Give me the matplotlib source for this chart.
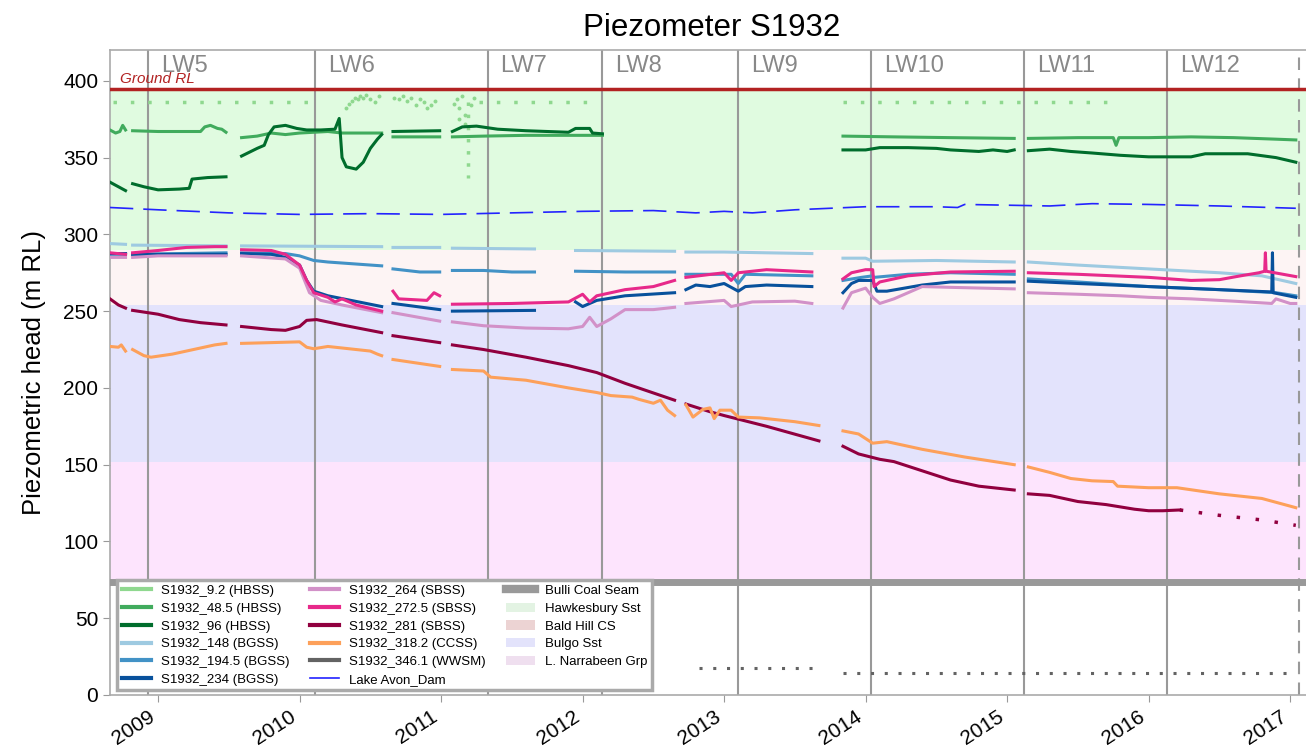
import numpy as np
import matplotlib
matplotlib.use('Agg')
import matplotlib.pyplot as plt
from matplotlib.patches import Patch
from matplotlib.lines import Line2D

plt.rcParams['font.family'] = ['Liberation Sans', 'DejaVu Sans']
nan = np.nan

# ---- data (decimal years, m RL) ----
lw_names = ['LW5', 'LW6', 'LW7', 'LW8', 'LW9', 'LW10', 'LW11', 'LW12']
lw_starts = [2008.93, 2010.11, 2011.33, 2012.14, 2013.10, 2014.04, 2015.12, 2016.13]
lw_end = 2017.06

ground_rl = 395
bulli_seam = 73.5
# (name, bottom, top)
units = [('Hawkesbury Sst', 290, 395),
         ('Bald Hill CS', 254, 290),
         ('Bulgo Sst', 152, 254),
         ('L. Narrabeen Grp', 73.5, 152)]

s9_x = [2008.68, 2010.10, nan, 2011.27, 2012.06, nan, 2013.84, 2015.72]
s9_y = [386.5, 386.5, nan, 386.5, 386.5, nan, 386.5, 386.5]
s9_scatter_x = [2010.33, 2010.35, 2010.37, 2010.39, 2010.41, 2010.43, 2010.45, 2010.47, 2010.50,
                2010.53, 2010.56, 2010.67, 2010.70, 2010.73, 2010.76, 2010.79, 2010.82, 2010.85,
                2010.88, 2010.90, 2010.93, 2010.96, 2011.09, 2011.11, 2011.13, 2011.15, 2011.17,
                2011.21, 2011.23, 2011.13, 2011.17]
s9_scatter_y = [382, 385, 387, 389, 388, 390, 389, 391, 388, 386, 390, 389, 388, 390, 387, 389, 384,
                388, 386, 382, 384, 387, 385, 388, 382, 390, 378, 384, 389, 375, 372]
s9_vert_x = [2011.19, 2011.19]
s9_vert_y = [386, 337]

s48_x = [2008.66, 2008.70, 2008.73, 2008.75, 2008.77, nan,
         2008.82, 2009.0, 2009.2, 2009.3, 2009.33, 2009.37, 2009.42, 2009.45, 2009.48, nan,
         2009.59, 2009.7, 2009.8, 2009.9, 2010.0, 2010.1, 2010.2, 2010.3, 2010.4, 2010.5, 2010.58, nan,
         2010.66, 2010.99, nan,
         2011.08, 2011.3, 2011.6, 2011.9, 2012.14, nan,
         2013.84, 2014.2, 2014.6, 2015.05, nan,
         2015.15, 2015.5, 2015.75, 2015.77, 2015.79, 2016.0, 2016.3, 2016.6, 2016.9, 2017.04]
s48_y = [368, 366, 367, 371, 368, nan,
         367.5, 367, 367, 367, 370, 371, 369, 368.5, 366.5, nan,
         363, 364, 366, 365, 366, 366.5, 367, 366, 366, 366, 366, nan,
         363.5, 363.5, nan,
         363.5, 364, 364.5, 364.5, 364.5, nan,
         364, 363.5, 363, 362.5, nan,
         362.5, 363, 363, 358, 363, 363, 363.5, 363, 362, 361.5]

s96_x = [2008.66, 2008.72, 2008.77, nan,
         2008.82, 2008.9, 2009.0, 2009.15, 2009.22, 2009.24, 2009.35, 2009.48, nan,
         2009.59, 2009.7, 2009.75, 2009.78, 2009.82, 2009.9, 2009.98, 2010.05, 2010.15, 2010.25,
         2010.28, 2010.30, 2010.33, 2010.40, 2010.45, 2010.5, 2010.55, 2010.58, nan,
         2010.66, 2010.99, nan,
         2011.08, 2011.15, 2011.25, 2011.4, 2011.6, 2011.9, 2011.95, 2012.05, 2012.07, 2012.14, nan,
         2013.84, 2014.0, 2014.1, 2014.3, 2014.5, 2014.6, 2014.8, 2014.9, 2015.0, 2015.05, nan,
         2015.15, 2015.3, 2015.45, 2015.6, 2015.8, 2016.0, 2016.3, 2016.4, 2016.7, 2016.9, 2017.04]
s96_y = [334, 331, 328.5, nan,
         333, 331, 329, 329.5, 330, 336, 337, 337.5, nan,
         351, 356, 358, 365, 370, 371, 369, 368, 368, 368.5,
         375.5, 350, 344, 342.5, 347, 356, 362, 365, nan,
         367, 367.5, nan,
         367, 370, 370.5, 368.5, 367.5, 366.5, 369, 369, 366, 365.5, nan,
         355, 355, 356.5, 356.5, 356, 355, 354, 355, 354, 355, nan,
         354.5, 355.5, 354, 353, 351.5, 350.5, 350.5, 352.5, 352.5, 350, 347]

s148_x = [2008.66, 2008.77, nan, 2008.82, 2009.48, nan, 2009.59, 2010.58, nan, 2010.66, 2010.99, nan,
          2011.08, 2011.66, nan, 2011.95, 2012.65, nan, 2012.73, 2013.0, 2013.3, 2013.62, nan,
          2013.84, 2014.0, 2014.05, 2014.5, 2015.05, nan,
          2015.15, 2015.5, 2016.0, 2016.5, 2016.8, 2017.04]
s148_y = [294, 293.5, nan, 293, 292.5, nan, 292.5, 292, nan, 291.5, 291.5, nan,
          291, 290.5, nan, 289.5, 289, nan, 288.5, 288.5, 288, 287.5, nan,
          284.5, 284.5, 282.5, 283, 282, nan,
          282, 280, 277.5, 275, 273, 268]

s194_x = [2008.66, 2008.77, nan, 2008.82, 2009.48, nan,
          2009.59, 2009.9, 2010.0, 2010.1, 2010.2, 2010.58, nan,
          2010.66, 2010.85, 2010.99, nan, 2011.08, 2011.3, 2011.5, 2011.66, nan,
          2011.95, 2012.3, 2012.65, nan, 2012.73, 2013.05, 2013.1, 2013.15, 2013.62, nan,
          2013.84, 2013.97, 2014.05, 2014.06, 2014.3, 2014.6, 2015.05, nan,
          2015.15, 2015.5, 2016.0, 2016.5, 2016.9, 2017.04]
s194_y = [287, 287, nan, 287, 288, nan,
          288, 287.5, 286, 283, 282, 279.5, nan,
          277.5, 275.5, 275.5, nan, 276.5, 276.5, 275.5, 275.5, nan,
          276, 275.5, 275.5, nan, 274, 274, 268, 274, 273, nan,
          270, 272, 273, 272, 274, 275, 274, nan,
          271, 269, 266, 264, 262, 260]

s234_x = [2008.66, 2008.77, nan, 2008.82, 2009.48, nan,
          2009.59, 2009.8, 2009.9, 2010.0, 2010.05, 2010.1, 2010.2, 2010.58, nan,
          2010.66, 2010.99, nan, 2011.08, 2011.66, nan,
          2011.95, 2012.0, 2012.1, 2012.3, 2012.65, nan,
          2012.73, 2012.8, 2012.9, 2013.0, 2013.1, 2013.15, 2013.3, 2013.62, nan,
          2013.84, 2013.9, 2013.95, 2014.05, 2014.08, 2014.15, 2014.4, 2014.6, 2015.05, nan,
          2015.15, 2015.5, 2016.0, 2016.5, 2016.87, 2016.875, 2016.88, 2017.04]
s234_y = [287.5, 287.5, nan, 287, 287, nan,
          287.5, 287, 285, 280, 270, 263, 260, 253, nan,
          255, 251, nan, 250, 250.5, nan,
          256, 253, 257, 260, 262, nan,
          264, 267, 266, 268, 263, 266, 267, 266, nan,
          262, 268, 270, 270, 263, 263, 267, 269, 269, nan,
          269.5, 268, 266, 264, 262.5, 288, 262, 259]

s264_x = [2008.66, 2008.77, nan, 2008.82, 2009.0, 2009.48, nan,
          2009.59, 2009.9, 2010.0, 2010.07, 2010.15, 2010.3, 2010.58, nan,
          2010.66, 2010.99, nan,
          2011.08, 2011.3, 2011.6, 2011.9, 2012.0, 2012.05, 2012.1, 2012.2, 2012.3, 2012.5, 2012.65, nan,
          2012.73, 2013.0, 2013.05, 2013.2, 2013.5, 2013.62, nan,
          2013.84, 2013.9, 2014.0, 2014.05, 2014.1, 2014.2, 2014.3, 2014.4, 2014.6, 2015.05, nan,
          2015.15, 2015.5, 2015.8, 2016.0, 2016.3, 2016.6, 2016.87, 2016.9, 2017.0, 2017.04]
s264_y = [285, 285, nan, 285, 286, 286, nan,
          286, 284, 278, 262, 257, 254, 249, nan,
          249, 243.5, nan,
          243, 240.5, 239, 238.5, 240, 246, 240, 245, 251, 251, 252.5, nan,
          255, 257, 253, 256, 256.5, 255, nan,
          252, 262, 265, 259, 255, 258, 262, 266, 265.5, 264.5, nan,
          262, 261, 260, 259, 258, 256.5, 255, 258, 255, 255]

s272_x = [2008.66, 2008.77, nan, 2008.82, 2009.0, 2009.2, 2009.4, 2009.48, nan,
          2009.59, 2009.8, 2009.9, 2010.0, 2010.05, 2010.1, 2010.2, 2010.25, 2010.3, 2010.4, 2010.58, nan,
          2010.66, 2010.7, 2010.9, 2010.95, 2010.99, nan,
          2011.08, 2011.5, 2011.9, 2012.0, 2012.05, 2012.1, 2012.3, 2012.5, 2012.65, nan,
          2012.73, 2013.0, 2013.05, 2013.1, 2013.3, 2013.62, nan,
          2013.84, 2013.9, 2014.0, 2014.05, 2014.06, 2014.1, 2014.3, 2014.6, 2015.05, nan,
          2015.15, 2015.5, 2016.0, 2016.3, 2016.5, 2016.65, 2016.78, 2016.82, 2016.825, 2016.83,
          2016.95, 2017.04]
s272_y = [288, 287, nan, 288, 289.5, 291.5, 292, 292, nan,
          290, 289.5, 287, 280, 270, 262, 259, 256, 258, 254, 250, nan,
          263, 258, 257, 262, 260, nan,
          254.5, 255, 256, 261, 256, 260, 264, 266, 270, nan,
          272, 275, 270, 275, 277, 275.5, nan,
          271, 275, 277, 277, 266, 269, 273, 275.5, 276, nan,
          275, 274, 272, 270, 270.5, 273, 275, 276, 288, 276,
          274, 272.5]

s281_x = [2008.66, 2008.72, 2008.77, nan,
          2008.82, 2009.0, 2009.15, 2009.3, 2009.48, nan,
          2009.59, 2009.8, 2009.9, 2010.0, 2010.05, 2010.12, 2010.3, 2010.58, nan,
          2010.66, 2010.99, nan,
          2011.08, 2011.3, 2011.6, 2011.9, 2012.1, 2012.3, 2012.65, nan,
          2012.73, 2012.9, 2013.0, 2013.3, 2013.67, nan,
          2013.84, 2013.95, 2014.1, 2014.2, 2014.4, 2014.6, 2014.8, 2015.0, 2015.05, nan,
          2015.15, 2015.3, 2015.5, 2015.7, 2015.9, 2016.0, 2016.1, 2016.22]
s281_y = [258, 254, 252, nan,
          250.5, 248, 244.5, 242.5, 241, nan,
          240, 238, 237.5, 240, 244, 244.5, 241, 236, nan,
          234, 229.5, nan,
          228, 225, 220, 214.5, 210, 203, 192, nan,
          189.5, 184.5, 182, 175, 165.5, nan,
          162, 157, 153.5, 152, 146, 140, 136, 134, 133.5, nan,
          131, 130, 126, 124, 121, 120, 120, 120.5]
s281_tail_x = [2016.22, 2016.5, 2016.8, 2017.04]
s281_tail_y = [120.5, 117, 114, 110.5]

s318_x = [2008.66, 2008.72, 2008.74, 2008.77, nan,
          2008.82, 2008.9, 2008.95, 2009.1, 2009.3, 2009.4, 2009.48, nan,
          2009.59, 2009.8, 2010.0, 2010.05, 2010.1, 2010.2, 2010.3, 2010.5, 2010.55, 2010.58, nan,
          2010.66, 2010.99, nan,
          2011.08, 2011.3, 2011.35, 2011.6, 2011.9, 2012.1, 2012.2, 2012.35, 2012.4, 2012.5, 2012.55,
          2012.6, 2012.65, nan,
          2012.73, 2012.78, 2012.85, 2012.9, 2012.93, 2012.97, 2013.05, 2013.1, 2013.25, 2013.5, 2013.67, nan,
          2013.84, 2013.95, 2014.05, 2014.15, 2014.4, 2014.7, 2015.05, nan,
          2015.15, 2015.3, 2015.45, 2015.6, 2015.75, 2015.78, 2016.0, 2016.2, 2016.5, 2016.8, 2017.04]
s318_y = [227, 226.5, 228, 224, nan,
          225, 221, 220, 222, 226, 228, 229, nan,
          229, 229.5, 230, 226.5, 225.5, 227, 226, 224, 222, 221, nan,
          218.5, 214, nan,
          212, 211, 207, 205, 200, 197, 195, 194, 192.5, 190, 192,
          185.5, 182, nan,
          189, 181, 186, 187, 180, 185.5, 185.5, 181, 180.5, 178, 175.5, nan,
          172, 170, 164, 165, 160, 155, 150, nan,
          148.5, 145, 141, 139.5, 139, 136, 135, 135, 131, 128, 122]

s346_x = [2012.82, 2013.65, nan, 2013.84, 2017.04]
s346_y = [17.5, 17.5, nan, 14.5, 14.5]

dam_x = [2008.66, 2009.0, 2009.5, 2010.0, 2010.5, 2011.0, 2011.5, 2012.0, 2012.5, 2012.8, 2013.0,
         2013.2, 2013.5, 2014.0, 2014.5, 2014.65, 2014.7, 2015.0, 2015.3, 2015.6, 2016.0, 2016.5, 2017.04]
dam_y = [317.5, 316, 314, 313, 313.5, 313, 314, 315, 315.5, 314, 315,
         314, 316, 318, 318, 317.5, 319.5, 319, 318.5, 320, 319.5, 318.5, 317]

# ---- figure ----
fig = plt.figure(figsize=(13.06, 7.56), dpi=100)
ax = fig.add_axes([0.0842, 0.0807, 0.921, 0.853])

band_colors = ['#e0fbe0', '#fdf4f4', '#e3e3fc', '#fde4fd']
for (name, lo, hi), c in zip(units, band_colors):
    ax.axhspan(lo, hi, color=c, lw=0, zorder=0)
ax.axhline(ground_rl, color='#b22222', lw=2.5, zorder=3)
ax.axhline(bulli_seam, color='#999999', lw=5, zorder=3)
ax.text(2008.73, ground_rl + 1.5, 'Ground RL', color='#b22222', fontsize=11,
        style='italic', va='bottom', ha='left', zorder=4)

for x0 in lw_starts:
    ax.axvline(x0, color='#999999', lw=1.5, zorder=1)
ax.axvline(lw_end, color='#999999', lw=1.5, ls=(0, (6, 4)), zorder=1)
for name, x0 in zip(lw_names, lw_starts):
    ax.text(x0 + 0.09, 409.5, name, color='#888888', fontsize=17, va='center', ha='left')

lw = 2.2
series = [
    ('S1932_48.5 (HBSS)', s48_x, s48_y, '#41ab5d'),
    ('S1932_96 (HBSS)', s96_x, s96_y, '#006d2c'),
    ('S1932_148 (BGSS)', s148_x, s148_y, '#9ecae1'),
    ('S1932_194.5 (BGSS)', s194_x, s194_y, '#4292c6'),
    ('S1932_234 (BGSS)', s234_x, s234_y, '#08519c'),
    ('S1932_264 (SBSS)', s264_x, s264_y, '#d291c8'),
    ('S1932_272.5 (SBSS)', s272_x, s272_y, '#e7298a'),
    ('S1932_281 (SBSS)', s281_x, s281_y, '#91003f'),
    ('S1932_318.2 (CCSS)', s318_x, s318_y, '#fda05a'),
]
ax.plot(s9_x, s9_y, color='#8fd88f', lw=2.5, ls=(0, (1, 4)), zorder=4)
ax.plot(s9_vert_x, s9_vert_y, color='#8fd88f', lw=2.5, ls=(0, (1, 2.5)), zorder=4)
ax.scatter(s9_scatter_x, s9_scatter_y, s=8, color='#8fd88f', lw=0, zorder=4)
for label, xs, ys, c in series:
    ax.plot(xs, ys, color=c, lw=lw, zorder=5)
ax.plot(s281_tail_x, s281_tail_y, color='#91003f', lw=2.5, ls=(0, (1, 4.5)), zorder=5)
ax.plot(s346_x, s346_y, color='#636363', lw=2.2, ls=(0, (1, 3.5)), zorder=5)
ax.plot(dam_x, dam_y, color='#2323ff', lw=1.2, ls=(0, (14, 6)), zorder=5)

ax.set_xlim(2008.66, 2017.16)
ax.set_ylim(0, 420)
ax.set_yticks(range(0, 401, 50))
years = list(range(2009, 2018))
ax.set_xticks(years)
ax.set_xticklabels([str(y) for y in years], rotation=33, ha='right', fontsize=15)
ax.tick_params(axis='y', labelsize=15, length=5, color='#999999')
ax.tick_params(axis='x', length=5, color='#999999')
for sp in ax.spines.values():
    sp.set_color('#aaaaaa')
    sp.set_linewidth(1.2)
ax.spines['right'].set_visible(False)

ax.set_ylabel('Piezometric head (m RL)', fontsize=18.5, labelpad=12)
ax.set_title('Piezometer S1932', fontsize=22.5, pad=10)

handles = [Line2D([], [], color='#8fd88f', lw=3)]
labels = ['S1932_9.2 (HBSS)']
for label, xs, ys, c in series[:8]:
    handles.append(Line2D([], [], color=c, lw=3))
    labels.append(label)
handles += [Line2D([], [], color='#fda05a', lw=3), Line2D([], [], color='#636363', lw=3),
            Line2D([], [], color='#2323ff', lw=1.2)]
labels += ['S1932_318.2 (CCSS)', 'S1932_346.1 (WWSM)', 'Lake Avon_Dam']
handles += [Line2D([], [], color='#999999', lw=6)]
labels += ['Bulli Coal Seam']
legend_colors = ['#e3f3e3', '#ecd3d3', '#e3e3fb', '#efdfef']
for (name, lo, hi), c in zip(units, legend_colors):
    handles.append(Patch(facecolor=c, edgecolor='none'))
    labels.append(name)

leg = ax.legend(handles, labels, ncol=3, loc='lower left', bbox_to_anchor=(0.006, 0.007),
                borderaxespad=0, fontsize=9.5, frameon=True, fancybox=False, framealpha=1,
                handlelength=2.2, handletextpad=0.8, labelspacing=0.42, columnspacing=1.5,
                borderpad=0.35)
leg.get_frame().set_edgecolor('#aaaaaa')
leg.get_frame().set_linewidth(2.5)
leg.set_zorder(10)

fig.savefig('out.png', dpi=100)
